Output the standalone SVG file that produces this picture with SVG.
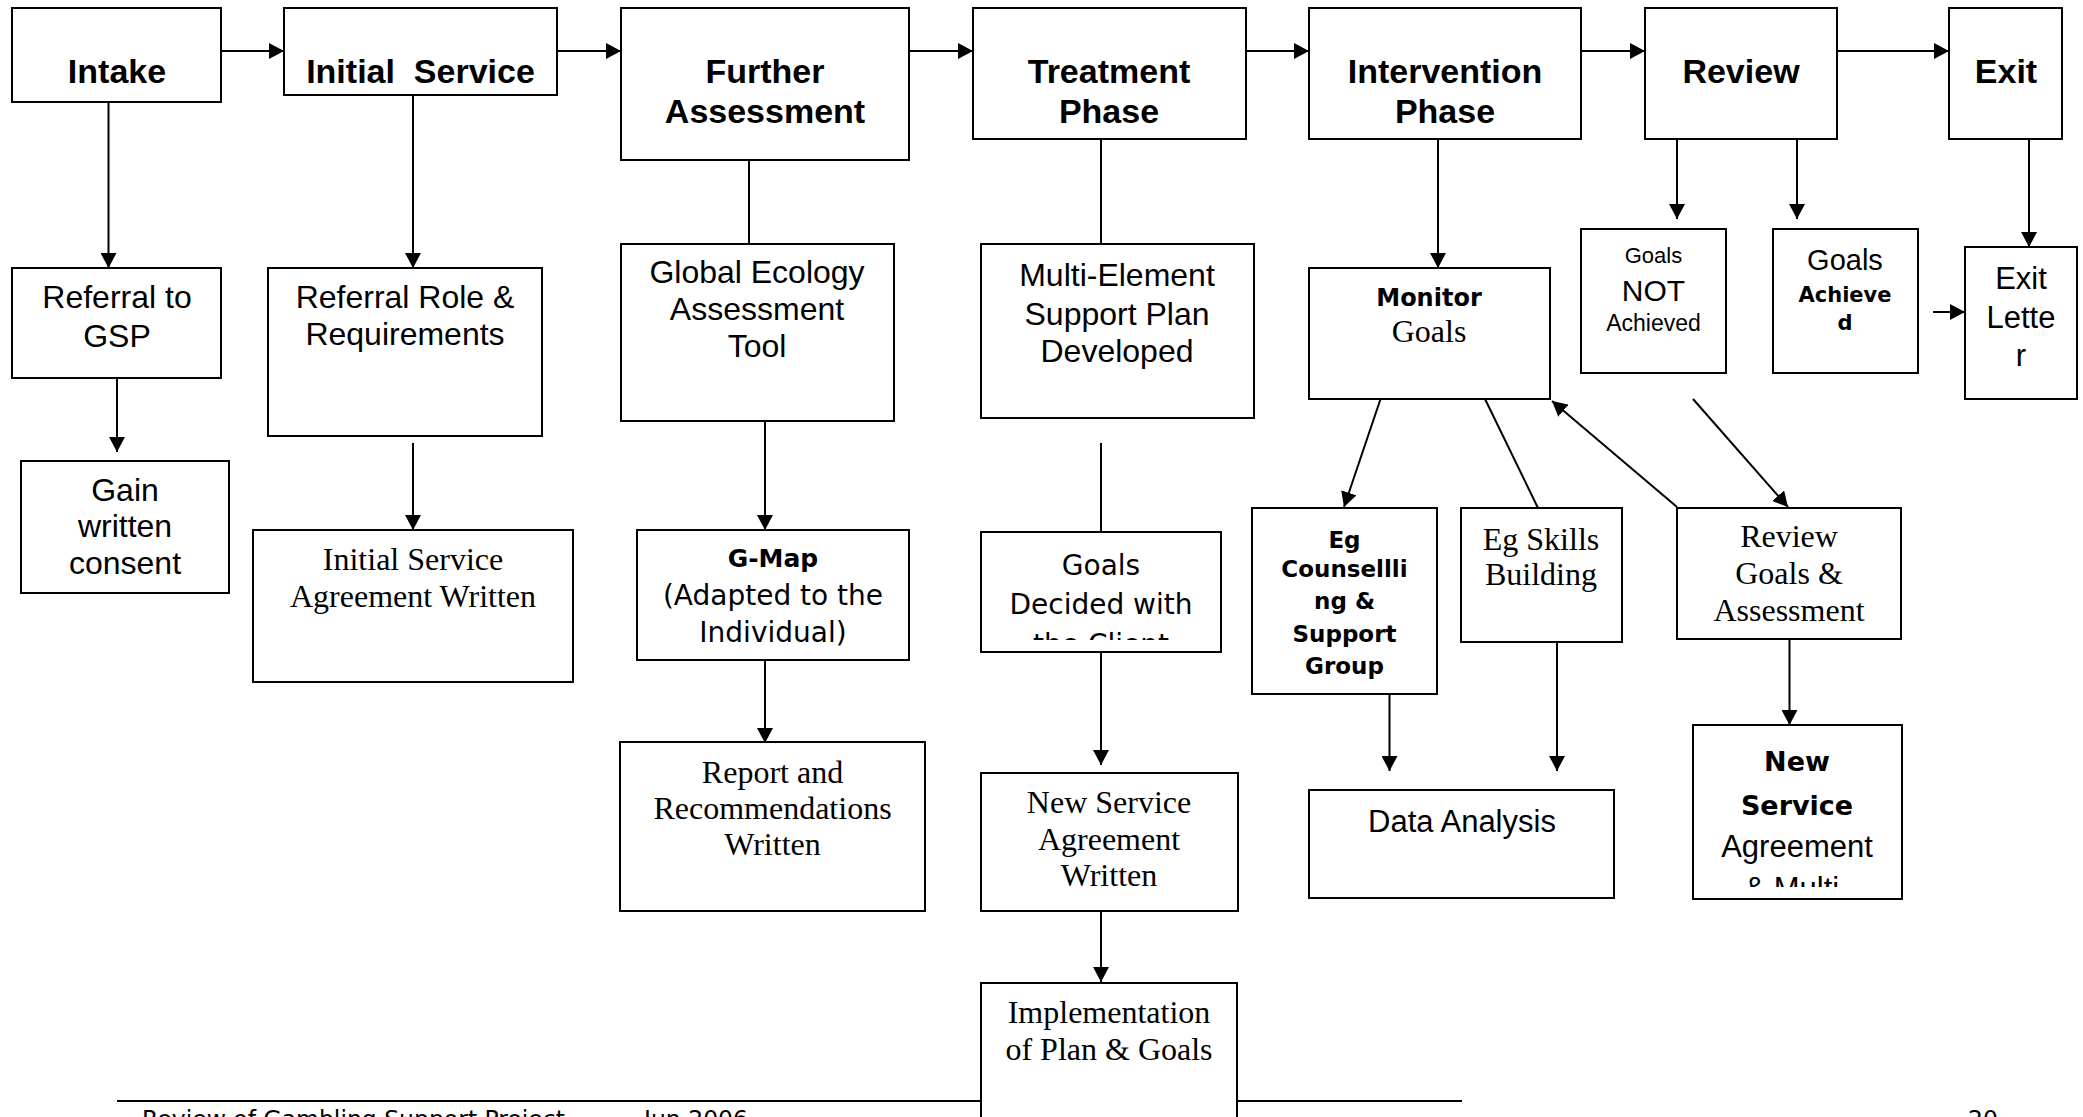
<svg xmlns="http://www.w3.org/2000/svg" width="2083" height="1117" viewBox="0 0 2083 1117">
<style>
rect.b{fill:#fff;stroke:#000;stroke-width:2}
.c line{stroke:#000;stroke-width:2;fill:none}
.a{marker-end:url(#ah)}
text{fill:#000;text-anchor:middle}
.h{font-family:"Liberation Sans",Arial,sans-serif;font-weight:bold;font-size:34px}
.s{font-family:"Liberation Sans",Arial,sans-serif;font-size:32px}
.t{font-family:"Liberation Serif","Times New Roman",serif;font-size:32px}
.v{font-family:"DejaVu Sans",Verdana,sans-serif;font-size:28px}
.vb{font-family:"DejaVu Sans",Verdana,sans-serif;font-weight:bold}
.f{font-family:"DejaVu Sans",Verdana,sans-serif;font-size:23.5px;text-anchor:start}
</style>
<defs>
<marker id="ah" markerUnits="userSpaceOnUse" markerWidth="16" markerHeight="16" refX="15" refY="8" orient="auto">
<path d="M0,0 L15,8 L0,16 z" fill="#000"/>
</marker>
<clipPath id="clipGoals"><rect x="981" y="532" width="240" height="108"/></clipPath>
<clipPath id="clipNSM"><rect x="1693" y="725" width="209" height="162"/></clipPath>
</defs>

<g id="footer">
<line x1="117" y1="1101" x2="1462" y2="1101" stroke="#000" stroke-width="2"/>
<text class="f" x="142" y="1127">Review of Gambling Support Project</text>
<text class="f" x="644" y="1127">Jun 2006</text>
<text class="f" x="1968" y="1127">20</text>
</g>

<g id="connectors" class="c">
<line class="a" x1="221" y1="51" x2="284" y2="51"/>
<line class="a" x1="557" y1="51" x2="621" y2="51"/>
<line class="a" x1="909" y1="51" x2="973" y2="51"/>
<line class="a" x1="1246" y1="51" x2="1309" y2="51"/>
<line class="a" x1="1581" y1="51" x2="1645" y2="51"/>
<line class="a" x1="1837" y1="51" x2="1949" y2="51"/>
<line class="a" x1="108.5" y1="102" x2="108.5" y2="268"/>
<line class="a" x1="117" y1="364" x2="117" y2="452"/>
<line class="a" x1="413" y1="95" x2="413" y2="268"/>
<line class="a" x1="413" y1="443" x2="413" y2="530"/>
<line x1="749" y1="160" x2="749" y2="244"/>
<line class="a" x1="765" y1="421" x2="765" y2="530"/>
<line class="a" x1="765" y1="660" x2="765" y2="743"/>
<line x1="1101" y1="139" x2="1101" y2="244"/>
<line x1="1101" y1="443" x2="1101" y2="532"/>
<line class="a" x1="1101" y1="653" x2="1101" y2="765"/>
<line class="a" x1="1101" y1="911" x2="1101" y2="982"/>
<line class="a" x1="1438" y1="139" x2="1438" y2="268"/>
<line class="a" x1="1677" y1="123" x2="1677" y2="219"/>
<line class="a" x1="1797" y1="123" x2="1797" y2="219"/>
<line class="a" x1="2029" y1="139" x2="2029" y2="247"/>
<line class="a" x1="1933" y1="312" x2="1965" y2="312"/>
<line class="a" x1="1389" y1="374" x2="1344" y2="507"/>
<line x1="1485" y1="399" x2="1538" y2="508"/>
<line class="a" x1="1677" y1="507" x2="1552" y2="401"/>
<line class="a" x1="1693" y1="399" x2="1788" y2="507"/>
<line class="a" x1="1389.5" y1="694" x2="1389.5" y2="771"/>
<line class="a" x1="1557" y1="642" x2="1557" y2="771"/>
<line class="a" x1="1789.5" y1="639" x2="1789.5" y2="725"/>
</g>

<g id="intake"><rect class="b" x="12" y="8" width="209" height="94"/><text class="h" x="117" y="83">Intake</text></g>
<g id="initial-service"><rect class="b" x="284" y="8" width="273" height="87"/><text class="h" x="420.5" y="83" style="white-space:pre">Initial  Service</text></g>
<g id="further-assessment"><rect class="b" x="621" y="8" width="288" height="152"/><text class="h" x="765" y="83">Further</text><text class="h" x="765" y="123">Assessment</text></g>
<g id="treatment-phase"><rect class="b" x="973" y="8" width="273" height="131"/><text class="h" x="1109" y="83">Treatment</text><text class="h" x="1109" y="123">Phase</text></g>
<g id="intervention-phase"><rect class="b" x="1309" y="8" width="272" height="131"/><text class="h" x="1445" y="83">Intervention</text><text class="h" x="1445" y="123">Phase</text></g>
<g id="review"><rect class="b" x="1645" y="8" width="192" height="131"/><text class="h" x="1741" y="83">Review</text></g>
<g id="exit"><rect class="b" x="1949" y="8" width="113" height="131"/><text class="h" x="2006" y="83">Exit</text></g>

<g id="referral-gsp"><rect class="b" x="12" y="268" width="209" height="110"/><text class="s" x="117" y="308">Referral to</text><text class="s" x="117" y="347">GSP</text></g>
<g id="referral-role"><rect class="b" x="268" y="268" width="274" height="168"/><text class="s" x="405" y="308">Referral Role &amp;</text><text class="s" x="405" y="345">Requirements</text></g>
<g id="global-ecology"><rect class="b" x="621" y="244" width="273" height="177"/><text class="s" x="757" y="283">Global Ecology</text><text class="s" x="757" y="320">Assessment</text><text class="s" x="757" y="357">Tool</text></g>
<g id="multi-element"><rect class="b" x="981" y="244" width="273" height="174"/><text class="s" x="1117" y="286">Multi-Element</text><text class="s" x="1117" y="324.5">Support Plan</text><text class="s" x="1117" y="362">Developed</text></g>
<g id="monitor-goals"><rect class="b" x="1309" y="268" width="241" height="131"/><text class="vb" style="font-size:24px" x="1429" y="306">Monitor</text><text class="t" x="1429" y="342">Goals</text></g>
<g id="goals-not-achieved"><rect class="b" x="1581" y="229" width="145" height="144"/><text class="s" style="font-size:22px" x="1653.5" y="263">Goals</text><text class="s" style="font-size:30px" x="1653.5" y="301">NOT</text><text class="s" style="font-size:23px" x="1653.5" y="331">Achieved</text></g>
<g id="goals-achieved"><rect class="b" x="1773" y="229" width="145" height="144"/><text class="s" style="font-size:29px" x="1845" y="270">Goals</text><text class="vb" style="font-size:21px" x="1845" y="302">Achieve</text><text class="vb" style="font-size:21px" x="1845" y="330">d</text></g>
<g id="exit-letter"><rect class="b" x="1965" y="247" width="112" height="152"/><text class="s" style="font-size:31px" x="2021" y="289">Exit</text><text class="s" style="font-size:31px" x="2021" y="328">Lette</text><text class="s" style="font-size:31px" x="2021" y="366">r</text></g>

<g id="gain-consent"><rect class="b" x="21" y="461" width="208" height="132"/><text class="s" x="125" y="501">Gain</text><text class="s" x="125" y="537">written</text><text class="s" x="125" y="574">consent</text></g>
<g id="initial-agreement"><rect class="b" x="253" y="530" width="320" height="152"/><text class="t" x="413" y="570">Initial Service</text><text class="t" x="413" y="607">Agreement Written</text></g>
<g id="g-map"><rect class="b" x="637" y="530" width="272" height="130"/><text class="vb" style="font-size:25px" x="773" y="567">G-Map</text><text class="v" x="773" y="605">(Adapted to the</text><text class="v" x="773" y="642">Individual)</text></g>
<g id="goals-decided"><rect class="b" x="981" y="532" width="240" height="120"/><text class="v" x="1101" y="575">Goals</text><text class="v" x="1101" y="614">Decided with</text><text class="v" x="1101" y="653.5" clip-path="url(#clipGoals)">the Client</text></g>
<g id="eg-counselling"><rect class="b" x="1252" y="508" width="185" height="186"/><g class="vb" style="font-size:23px"><text x="1344.5" y="548">Eg</text><text x="1344.5" y="577">Counsellli</text><text x="1344.5" y="609">ng &amp;</text><text x="1344.5" y="642">Support</text><text x="1344.5" y="673.5">Group</text></g></g>
<g id="eg-skills"><rect class="b" x="1461" y="508" width="161" height="134"/><text class="t" x="1541" y="550">Eg Skills</text><text class="t" x="1541" y="585">Building</text></g>
<g id="review-goals"><rect class="b" x="1677" y="508" width="224" height="131"/><text class="t" x="1789" y="547">Review</text><text class="t" x="1789" y="584">Goals &amp;</text><text class="t" x="1789" y="621">Assessment</text></g>

<g id="report"><rect class="b" x="620" y="742" width="305" height="169"/><text class="t" x="772.5" y="783">Report and</text><text class="t" x="772.5" y="819">Recommendations</text><text class="t" x="772.5" y="855">Written</text></g>
<g id="new-service-agreement"><rect class="b" x="981" y="773" width="257" height="138"/><text class="t" x="1109" y="813">New Service</text><text class="t" x="1109" y="850">Agreement</text><text class="t" x="1109" y="886">Written</text></g>
<g id="data-analysis"><rect class="b" x="1309" y="790" width="305" height="108"/><text class="s" style="font-size:31px" x="1462" y="832">Data Analysis</text></g>
<g id="new-service-multi"><rect class="b" x="1693" y="725" width="209" height="174"/><text class="vb" style="font-size:27px" x="1797" y="771">New</text><text class="vb" style="font-size:27px" x="1797" y="815">Service</text><text class="s" style="font-size:31px" x="1797" y="857">Agreement</text><text class="s" style="font-size:31px" x="1797" y="899" clip-path="url(#clipNSM)">&amp; Multi-</text></g>

<g id="implementation"><rect class="b" x="981" y="983" width="256" height="160"/><text class="t" x="1109" y="1023">Implementation</text><text class="t" x="1109" y="1059.5">of Plan &amp; Goals</text></g>
</svg>
